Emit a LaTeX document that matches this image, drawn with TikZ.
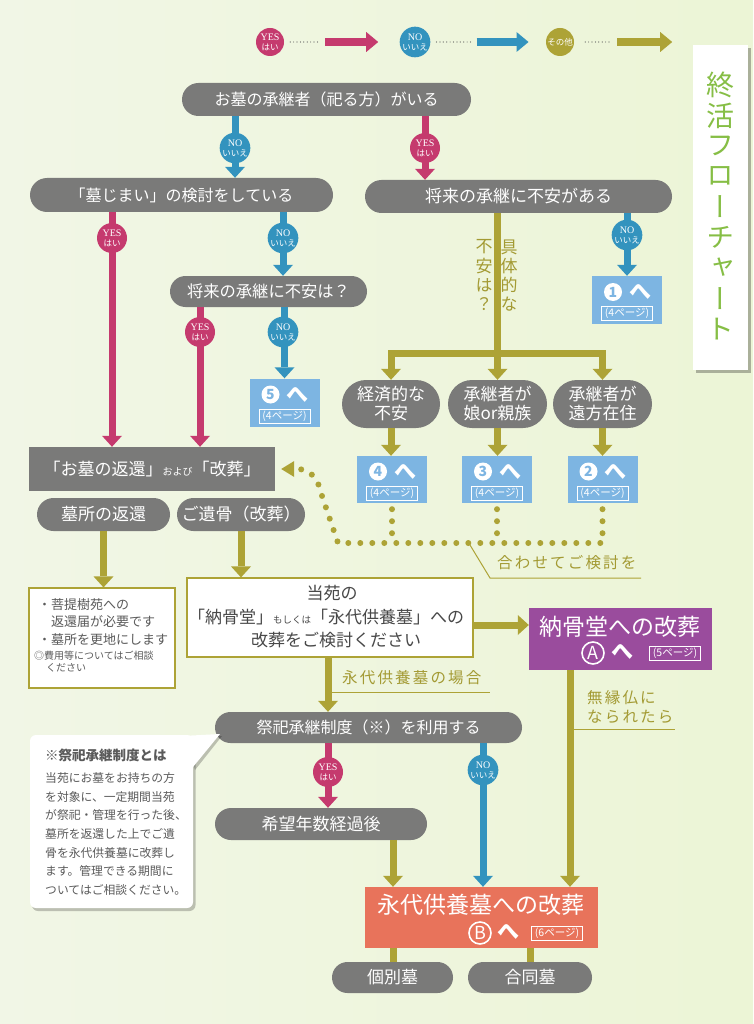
\documentclass[tikz,border=0pt]{standalone}
\usepackage{fontspec}
\setmainfont{Noto Sans CJK JP}
\newfontfamily\ser{Liberation Serif}
\newfontfamily\jpv{Noto Sans CJK JP}[RawFeature=+vert]
\usetikzlibrary{arrows.meta,shapes.misc}
\definecolor{bgL}{HTML}{F1F6E6}
\definecolor{bgR}{HTML}{ECF5D6}
\definecolor{pg}{HTML}{7A7A79}
\definecolor{yesc}{HTML}{C53A6E}
\definecolor{noc}{HTML}{3393BE}
\definecolor{olv}{HTML}{ADA336}
\definecolor{olvt}{HTML}{A39A33}
\definecolor{lb}{HTML}{7DB5E2}
\definecolor{pur}{HTML}{9A4C9D}
\definecolor{sal}{HTML}{E8735B}
\definecolor{ttl}{HTML}{86BE45}
\definecolor{txg}{HTML}{5A5A5A}
\newcommand{\ansyes}{{\ser\fontsize{10}{10}\selectfont YES}\\{\fontsize{8.5}{10}\selectfont はい}}
\newcommand{\ansno}{{\ser\fontsize{10}{10}\selectfont NO}\\{\fontsize{8.5}{10}\selectfont いいえ}}
\tikzset{
  pill/.style={rounded rectangle, fill=pg, text=white, inner sep=0pt, align=center, font=\fontsize{17}{19}\selectfont},
  gbox/.style={rectangle, fill=pg, text=white, inner sep=0pt},
  bbox/.style={rectangle, fill=lb, inner sep=0pt, minimum width=70pt, minimum height=48pt},
  ycirc/.style={circle, fill=yesc, text=white, minimum size=30pt, inner sep=0pt, align=center, font=\fontsize{8.5}{10}\selectfont},
  ncirc/.style={ycirc, fill=noc},
  ocirc/.style={ycirc, fill=olv},
  tipA/.style={-{Triangle[width=20pt,length=11pt,line width=0pt]}},
  yarr/.style={draw=yesc, line width=7pt, tipA},
  narr/.style={draw=noc, line width=7pt, tipA},
  oarr/.style={draw=olv, line width=7pt, tipA},
  oline/.style={draw=olv, line width=7pt},
  dotline/.style={draw=olv, line width=6pt, line cap=round, dash pattern=on 0pt off 12pt},
  dotsm/.style={draw=txg, line width=1.2pt, line cap=round, dash pattern=on 0pt off 3.4pt},
  pglabel/.style={draw=white, line width=0.6pt, text=white, inner sep=0pt, font=\fontsize{10.5}{11}\selectfont, minimum width=51pt, minimum height=14pt},
  numc/.style={circle, fill=white, text=lb, minimum size=18pt, inner sep=0pt, font=\bfseries\fontsize{14}{14}\selectfont},
  hechar/.style={text=white, inner sep=0pt, font=\bfseries\fontsize{22}{22}\selectfont},
  letc/.style={circle, draw=white, line width=1.6pt, minimum size=22pt, inner sep=0pt, text=white, font=\fontsize{18}{18}\selectfont},
  bigtxt/.style={text=white, inner sep=0pt, font=\fontsize{23}{25}\selectfont},
  olab/.style={text=olvt, inner sep=0pt, font=\fontsize{15.5}{18}\selectfont\addfontfeature{LetterSpace=14}},
  uline/.style={draw=olv, line width=1pt},
  ntxt/.style={text=txg, inner sep=0pt, anchor=west, font=\fontsize{13}{15}\selectfont},
  nsml/.style={text=txg, inner sep=0pt, anchor=west, font=\fontsize{10}{12}\selectfont},
  ctxt/.style={text=txg, inner sep=0pt, anchor=west, font=\fontsize{11.8}{14}\selectfont},
  wbox/.style={rectangle, fill=white, draw=olv, line width=1.2pt, inner sep=0pt},
  mtxt/.style={text=txg!80!black, inner sep=0pt, font=\fontsize{17}{19}\selectfont},
  ttlc/.style={text=ttl, inner sep=0pt, font=\jpv\fontsize{28}{28}\selectfont},
  vlab/.style={text=olvt, inner sep=0pt, font=\jpv\fontsize{17}{17}\selectfont}
}
\begin{document}
\begin{tikzpicture}[x=1pt,y=-1pt]
\useasboundingbox (0,0) rectangle (753,1024);
\shade[left color=bgL,right color=bgR] (0,0) rectangle (753,1024);

% ---------- legend ----------
\node[ycirc, minimum size=28pt] (lgY) at (270,42) {\ansyes};
\node[ncirc, minimum size=28pt] (lgN) at (415,42) {\ansno};
\node[ocirc, minimum size=28pt, font=\fontsize{8.5}{9}\selectfont] (lgO) at (560,42) {その他};
\draw[dotsm] ([xshift=6pt]lgY.east) -- ([xshift=36pt]lgY.east);
\draw[yesc, line width=8pt, -{Triangle[width=20pt,length=12pt,line width=0pt]}] ([xshift=41pt]lgY.east) -- ([xshift=94pt]lgY.east);
\draw[dotsm] ([xshift=6pt]lgN.east) -- ([xshift=41pt]lgN.east);
\draw[noc, line width=8pt, -{Triangle[width=20pt,length=12pt,line width=0pt]}] ([xshift=46pt]lgN.east) -- ([xshift=98pt]lgN.east);
\draw[dotsm] ([xshift=11pt]lgO.east) -- ([xshift=38pt]lgO.east);
\draw[olv, line width=8pt, -{Triangle[width=20pt,length=12pt,line width=0pt]}] ([xshift=43pt]lgO.east) -- ([xshift=98pt]lgO.east);

% ---------- title ----------
\fill[black, opacity=.28] (696,48) rectangle (751,373);
\node[rectangle, fill=white, minimum width=55pt, minimum height=325pt, inner sep=0pt] (ttlbox) at (720.5,207.5) {};
\foreach \c [count=\i] in {終,活,フ,ロ,ー,チ,ャ,ー,ト}
  \node[ttlc] (tt\i) at (720,{85+(\i-1)*30.5}) {\c};

% ---------- main nodes ----------
\node[pill, minimum width=289pt, minimum height=33pt, font=\fontsize{16}{18}\selectfont] (n1) at (326.5,99.5) {お墓の承継者（祀る方）がいる};
\node[pill, minimum width=303pt, minimum height=34pt, font=\fontsize{16}{18}\selectfont] (n2) at (181.5,195) {「墓じまい」の検討をしている};
\node[pill, minimum width=307pt, minimum height=33pt] (n3) at (518.5,196.5) {将来の承継に不安がある};
\node[pill, minimum width=197pt, minimum height=31pt, font=\fontsize{16.3}{18}\selectfont] (n4) at (268.5,291.5) {将来の承継に不安は？};
\node[bbox] (b5) at (284.5,402.5) {};
\node[bbox] (b1) at (627,300) {};
\node[pill, minimum width=98pt, minimum height=48pt] (t1) at (391,404) {経済的な\\不安};
\node[pill, minimum width=99pt, minimum height=48pt] (t2) at (497.5,404) {承継者が\\娘or親族};
\node[pill, minimum width=99pt, minimum height=48pt] (t3) at (602.5,404) {承継者が\\遠方在住};
\node[bbox, minimum height=47pt] (b4) at (392,479.5) {};
\node[bbox, minimum height=47pt] (b3) at (497,479.5) {};
\node[bbox, minimum height=47pt] (b2) at (602.5,479.5) {};
\foreach \b/\d in {b1/1,b2/2,b3/3,b4/4,b5/5}{
  \node[numc] (\b-n) at ([xshift=-14pt,yshift=8pt]\b.center) {\d};
  \node[hechar] (\b-h) at ([xshift=13pt,yshift=8pt]\b.center) {へ};
  \node[pglabel] (\b-p) at ([yshift=-13.5pt]\b.center) {(4ページ)};
}
\node[gbox, minimum width=246pt, minimum height=44pt, font=\fontsize{17}{19}\selectfont] (r1) at (152,469) {「お墓の返還」{\fontsize{10}{10}\selectfont および}「改葬」};
\node[pill, minimum width=133pt, minimum height=33pt] (p1) at (103.5,514.5) {墓所の返還};
\node[pill, minimum width=128pt, minimum height=33pt] (p2) at (241,514.5) {ご遺骨（改葬）};
\node[wbox, minimum width=146pt, minimum height=100pt] (note) at (102,638) {};
\node[ntxt] (nt1) at (38,605) {・菩提樹苑への};
\node[ntxt] (nt2) at (51,622) {返還届が必要です};
\node[ntxt] (nt3) at (38,640) {・墓所を更地にします};
\node[nsml] (nt4) at (34,656) {◎費用等についてはご相談};
\node[nsml] (nt5) at (46,668) {ください};
\node[wbox, minimum width=286pt, minimum height=79pt] (main) at (330,617.5) {};
\node[mtxt] (mt1) at (332,593) {当苑の};
\node[mtxt] (mt2) at (326,617) {「納骨堂」{\fontsize{9.5}{10}\selectfont もしくは}「永代供養墓」への};
\node[mtxt] (mt3) at (336,640) {改葬をご検討ください};
\node[rectangle, fill=pur, minimum width=183pt, minimum height=62pt, inner sep=0pt] (pb) at (620.5,639) {};
\node[bigtxt] (pbt) at (620,627) {納骨堂への改葬};
\node[letc] (pbA) at (593,653) {A};
\node[hechar] (pbh) at (622,652) {へ};
\node[pglabel] (pbp) at (675,653) {(5ページ)};
\node[pill, minimum width=307pt, minimum height=31pt, font=\fontsize{16}{18}\selectfont] (s1) at (368.5,727.5) {祭祀承継制度（※）を利用する};
\node[pill, minimum width=212pt, minimum height=32pt] (s2) at (321,824) {希望年数経過後};
\node[rectangle, fill=sal, minimum width=233pt, minimum height=61pt, inner sep=0pt] (sb) at (481.5,917.5) {};
\node[bigtxt] (sbt) at (481,905) {永代供養墓への改葬};
\node[letc] (sbB) at (480,933) {B};
\node[hechar] (sbh) at (508,932) {へ};
\node[pglabel] (sbp) at (557,933) {(6ページ)};
\node[pill, minimum width=121pt, minimum height=31pt] (k1) at (392.5,977.5) {個別墓};
\node[pill, minimum width=124pt, minimum height=31pt] (k2) at (530,977.5) {合同墓};

% ---------- callout ----------
\fill[black, opacity=.22, rounded corners=6pt] (32,738) rectangle (195.5,911);
\fill[black, opacity=.22] (187,740) -- (222,736) -- (195,770) -- cycle;
\node[rectangle, fill=white, rounded corners=6pt, minimum width=163pt, minimum height=173pt, inner sep=0pt] (cb) at (111.5,821.5) {};
\fill[white] (182,736) -- (220,734) -- (193,767) -- cycle;
\node[text=txg, inner sep=0pt, anchor=west, font=\bfseries\fontsize{13.5}{15}\selectfont] (cl0) at (45,755) {※祭祀承継制度とは};
\foreach \t [count=\i] in {当苑にお墓をお持ちの方,を対象に、一定期間当苑,が祭祀・管理を行った後、,墓所を返還した上でご遺,骨を永代供養墓に改葬し,ます。管理できる期間に,ついてはご相談ください。}
  \node[ctxt] (cl\i) at (45,{778+(\i-1)*18.67}) {\t};

% ---------- coordinates ----------
\coordinate (xN1) at (235,0);
\coordinate (xY1) at (425,0);
\coordinate (xY2) at (112,0);
\coordinate (xN2) at (283,0);
\coordinate (xY4) at (200,0);
\coordinate (br) at (0,353);
\coordinate (cj) at (0,543);
\coordinate (ay) at (0,625);
\coordinate (xM) at (328,0);
\coordinate (xN5) at (483,0);
\coordinate (xS2) at (393,0);
\coordinate (xP) at (570,0);
\coordinate (xK2) at (530,0);

% ---------- connectors ----------
\draw[narr] (n1.south -| xN1) -- (n2.north -| xN1);
\draw[yarr] (n1.south -| xY1) -- (n3.north -| xY1);
\draw[yarr] (n2.south -| xY2) -- (r1.north -| xY2);
\draw[narr] (n2.south -| xN2) -- (n4.north -| xN2);
\draw[yarr] (n4.south -| xY4) -- (r1.north -| xY4);
\draw[narr] (n4.south -| b5) -- (b5.north);
\draw[narr] (n3.south -| b1) -- (b1.north);
\draw[oarr] (n3.south -| t2) -- (t2.north);
\draw[oline, line cap=rect] (t1 |- br) -- (t3 |- br);
\draw[oarr] (t1 |- br) -- (t1.north);
\draw[oarr] (t3 |- br) -- (t3.north);
\draw[oarr] (t1.south) -- (t1.south |- b4.north);
\draw[oarr] (t2.south) -- (t2.south |- b3.north);
\draw[oarr] (t3.south) -- (t3.south |- b2.north);

% dotted
\coordinate (dA) at (338,543);
\coordinate (dB) at (320,490);
\coordinate (dC) at (297,469);
\draw[dotline] ([yshift=-6pt]b4.south) -- (b4.south |- cj);
\draw[dotline] ([yshift=-6pt]b3.south) -- (b3.south |- cj);
\draw[dotline] ([yshift=-6pt]b2.south) -- (b2.south |- cj) -- (dA) -- (dB) to[out=100,in=0] (dC);
\fill[olv] ([xshift=6pt]r1.east) -- ++(13,-8) -- ++(0,16) -- cycle;

% labels
\coordinate (lA) at (470,545);
\coordinate (lB) at (490,578);
\coordinate (lC) at (641,578);
\draw[uline] (lA) -- (lB) -- (lC);
\node[olab, anchor=west] (lab1) at (497,563) {合わせてご検討を};

\draw[oarr] (p1.south) -- (p1.south |- note.north);
\draw[oarr] (p2.south) -- (p2.south |- main.north);
\draw[oarr] (main.east |- ay) -- (pb.west |- ay);
\draw[oarr] (main.south -| xM) -- (s1.north -| xM);
\coordinate (lD) at (328,692);
\coordinate (lE) at (490,692);
\draw[uline] (lD) -- (lE);
\node[olab, anchor=west] (lab2) at (342,678) {永代供養墓の場合};

\draw[oarr] (pb.south -| xP) -- (sb.north -| xP);
\coordinate (lF) at (570,729);
\coordinate (lG) at (675,729);
\draw[uline] (lF) -- (lG);
\node[olab, anchor=west] (lab3) at (587,698) {無縁仏に};
\node[olab, anchor=west] (lab4) at (587,717) {なられたら};

\draw[yarr] (s1.south -| xM) -- (s2.north -| xM);
\draw[narr] (s1.south -| xN5) -- (sb.north -| xN5);
\draw[oarr] (s2.south -| xS2) -- (sb.north -| xS2);
\draw[oline] (sb.south -| xS2) -- (k1.north -| xS2);
\draw[oline] (sb.south -| xK2) -- (k2.north -| xK2);

% vertical label
\foreach \c [count=\i] in {具,体,的,な}
  \node[vlab] (va\i) at (509,{247+(\i-1)*19}) {\c};
\foreach \c [count=\i] in {不,安,は,？}
  \node[vlab] (vb\i) at (484,{247+(\i-1)*19}) {\c};

% answer circles
\node[ncirc] (cN1) at (235,148) {\ansno};
\node[ycirc] (cY1) at (425,148) {\ansyes};
\node[ycirc] (cY2) at (112,238) {\ansyes};
\node[ncirc] (cN2) at (283,238) {\ansno};
\node[ycirc] (cY4) at (200,332) {\ansyes};
\node[ncirc] (cN4) at (283,332) {\ansno};
\node[ncirc] (cN3) at (627,235) {\ansno};
\node[ycirc] (cY5) at (328,772) {\ansyes};
\node[ncirc] (cN5) at (483,770) {\ansno};
\end{tikzpicture}
\end{document}
